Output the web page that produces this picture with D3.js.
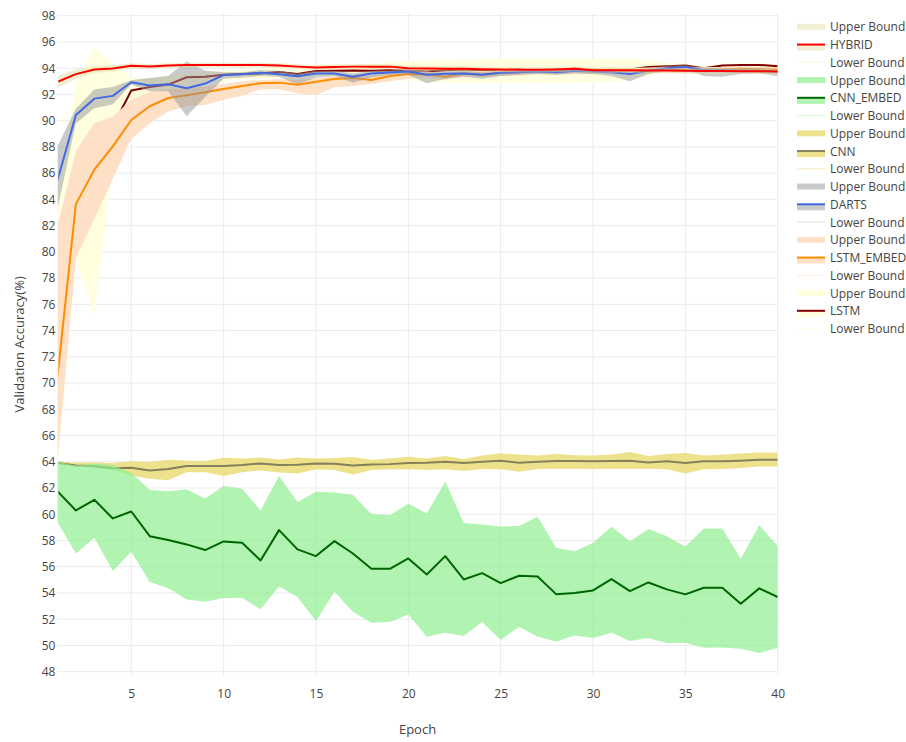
<!DOCTYPE html>
<html>
  <head>
    <meta charset="utf-8">
    <title>Validation Accuracy</title>
    <style>
      body { margin: 0; background: #fff; }
      text { font-family: "Open Sans", verdana, arial, sans-serif; fill: #444; }
    </style>
  </head>
  <body>
    <div class="chart-area"></div>

    <script src="https://d3js.org/d3.v7.min.js"></script>
    <script>
        // epochs on the x axis
        var epochs = [1,2,3,4,5,6,7,8,9,10,11,12,13,14,15,16,17,18,19,20,
                      21,22,23,24,25,26,27,28,29,30,31,32,33,34,35,36,37,38,39,40];

        var xTicks = [5, 10, 15, 20, 25, 30, 35, 40];
        var yTicks = [48,50,52,54,56,58,60,62,64,66,68,70,72,74,76,78,80,82,84,86,88,90,92,94,96,98];

        // HYBRID
        var hybrid = [92.96,93.55,93.9,93.97,94.18,94.13,94.2,94.24,94.24,94.25,94.24,94.24,94.2,94.12,94.05,94.1,94.12,94.12,94.12,94.0,
                      93.98,93.95,93.95,93.92,93.9,93.88,93.88,93.9,93.95,93.85,93.85,93.85,93.82,93.82,93.8,93.78,93.78,93.77,93.76,93.75];
        var hybridUpper = [93.4,93.9,94.15,94.2,94.38,94.32,94.38,94.4,94.42,94.42,94.4,94.42,94.38,94.3,94.25,94.28,94.3,94.32,94.3,94.2,
                           94.18,94.15,94.16,94.12,94.1,94.08,94.1,94.12,94.15,94.05,94.06,94.05,94.03,94.02,94.0,93.98,93.99,93.97,93.96,93.95];
        var hybridLower = [92.5,93.2,93.65,93.75,93.98,93.94,94.02,94.06,94.05,94.07,94.06,94.05,94.02,93.93,93.86,93.92,93.93,93.92,93.94,93.8,
                           93.78,93.76,93.74,93.72,93.7,93.68,93.67,93.7,93.74,93.65,93.64,93.65,93.62,93.62,93.6,93.58,93.57,93.57,93.56,93.55];

        // CNN_EMBED
        var cnnEmbed = [61.76,60.29,61.1,59.68,60.21,58.33,58.03,57.7,57.27,57.93,57.83,56.48,58.79,57.32,56.81,57.95,57.01,55.84,55.84,56.63,
                        55.41,56.81,55.03,55.51,54.75,55.31,55.26,53.91,53.99,54.19,55.06,54.14,54.8,54.27,53.89,54.4,54.4,53.18,54.35,53.69];
        var cnnEmbedUpper = [64.0,63.72,63.87,63.75,63.16,61.84,61.76,61.89,61.2,62.15,61.94,60.29,62.91,60.93,61.71,61.66,61.48,60.01,59.93,60.8,
                             60.06,62.5,59.33,59.22,59.07,59.1,59.81,57.45,57.17,57.83,59.05,57.95,58.87,58.33,57.55,58.92,58.92,56.61,59.17,57.57];
        var cnnEmbedLower = [59.4,57.01,58.21,55.67,57.14,54.83,54.35,53.51,53.33,53.61,53.63,52.75,54.5,53.69,51.86,54.09,52.57,51.73,51.78,52.36,
                             50.66,50.97,50.71,51.78,50.41,51.42,50.66,50.3,50.76,50.56,50.97,50.33,50.56,50.18,50.2,49.82,49.84,49.74,49.42,49.82];

        // CNN
        var cnn = [63.92,63.72,63.65,63.5,63.54,63.34,63.44,63.67,63.67,63.67,63.75,63.87,63.75,63.77,63.87,63.85,63.72,63.8,63.82,63.9,
                   63.92,64.0,63.9,64.0,64.08,63.92,64.0,64.05,64.05,64.03,64.05,64.08,63.95,64.03,63.9,64.03,64.03,64.08,64.15,64.15];
        var cnnUpper = [64.0,63.95,63.95,63.9,64.03,63.98,64.15,64.08,64.05,64.3,64.25,64.33,64.18,64.33,64.25,64.28,64.36,64.15,64.25,64.38,
                        64.25,64.43,64.22,64.48,64.64,64.55,64.48,64.6,64.5,64.48,64.55,64.74,64.43,64.6,64.66,64.48,64.53,64.63,64.71,64.69];
        var cnnLower = [63.85,63.67,63.55,63.4,62.96,62.7,62.6,63.21,63.21,62.91,63.21,63.34,63.18,63.11,63.42,63.37,63.03,63.37,63.42,63.42,
                        63.37,63.42,63.29,63.45,63.42,63.24,63.45,63.47,63.47,63.45,63.47,63.47,63.47,63.42,63.11,63.42,63.45,63.53,63.63,63.64];

        // DARTS
        var darts = [85.44,90.43,91.68,91.89,92.93,92.68,92.78,92.47,92.83,93.48,93.53,93.66,93.53,93.38,93.6,93.6,93.35,93.6,93.68,93.74,
                     93.5,93.58,93.6,93.5,93.66,93.7,93.75,93.7,93.8,93.75,93.7,93.55,93.8,94.0,94.1,93.85,93.85,93.8,93.8,93.75];
        var dartsUpper = [88.04,90.9,92.37,92.57,93.08,93.26,93.4,94.53,93.8,93.7,93.7,93.85,93.8,93.6,93.8,93.8,93.6,93.8,93.85,93.9,
                          93.75,93.75,93.8,93.7,93.85,93.9,93.95,93.9,94.0,93.95,93.9,93.8,94.0,94.2,94.25,94.05,94.0,94.0,94.0,93.9];
        var dartsLower = [83.25,89.8,90.94,91.25,92.75,92.24,92.24,90.33,91.8,93.2,93.3,93.4,93.35,92.75,93.3,93.4,92.9,93.3,93.5,93.5,
                          92.85,93.2,93.35,93.2,93.4,93.5,93.55,93.5,93.6,93.55,93.4,93.0,93.55,93.8,93.9,93.4,93.35,93.55,93.6,93.4];

        // LSTM_EMBED
        var lstmEmbed = [70.4,83.64,86.26,88.04,90.05,91.1,91.73,91.94,92.17,92.42,92.64,92.85,92.9,92.74,92.97,93.18,93.25,93.1,93.4,93.56,
                         93.53,93.35,93.6,93.5,93.66,93.7,93.8,93.75,93.85,93.8,93.85,93.8,93.85,93.9,93.85,93.9,93.9,93.95,93.9,93.9];
        var lstmEmbedUpper = [81.93,87.66,89.83,90.3,91.6,92.2,92.4,92.5,92.6,92.8,93.0,93.1,93.15,93.1,93.25,93.4,93.5,93.4,93.6,93.75,
                              93.75,93.6,93.8,93.75,93.85,93.9,94.0,93.95,94.05,94.0,94.05,94.0,94.05,94.1,94.05,94.1,94.1,94.15,94.1,94.1];
        var lstmEmbedLower = [63.9,79.55,82.5,85.6,88.6,89.8,90.7,91.1,91.2,91.6,91.9,92.4,92.4,92.1,91.95,92.55,92.65,92.8,93.0,93.2,
                              93.3,93.1,93.35,93.3,93.4,93.45,93.55,93.5,93.6,93.55,93.6,93.55,93.6,93.65,93.6,93.65,93.65,93.7,93.65,93.65];

        // LSTM
        var lstm = [73.0,84.5,87.0,89.55,92.3,92.57,92.75,93.31,93.34,93.5,93.55,93.6,93.72,93.56,93.79,93.8,93.82,93.8,93.85,93.8,
                    93.75,93.85,93.9,93.85,93.85,93.9,93.8,93.9,93.95,93.9,93.85,93.9,94.1,94.15,94.2,94.0,94.2,94.25,94.25,94.15];
        var lstmUpper = [84.0,92.8,95.6,94.4,93.3,93.2,93.4,93.6,93.7,93.8,93.9,93.95,94.1,93.95,94.2,94.2,94.25,94.3,94.5,94.55,
                         94.6,94.6,94.65,94.7,94.7,94.7,94.7,94.7,94.7,94.7,94.7,94.7,94.6,94.4,94.35,94.15,94.35,94.4,94.4,94.3];
        var lstmLower = [63.8,79.4,75.2,86.8,91.0,92.0,92.2,92.7,92.9,93.0,93.15,93.2,93.3,93.15,93.4,93.4,93.4,93.2,93.1,93.0,
                         92.95,92.9,92.9,92.9,92.9,92.9,92.85,92.9,92.9,92.95,92.95,93.1,93.4,93.8,94.05,93.85,94.05,94.1,94.1,94.0];

        // drawing order (first = bottom), legend shows them reversed
        var series = [
            { name: "LSTM", values: lstm, upper: lstmUpper, lower: lstmLower, line: "#800000", fill: "#ffffe0" },
            { name: "LSTM_EMBED", values: lstmEmbed, upper: lstmEmbedUpper, lower: lstmEmbedLower, line: "#ff8c00", fill: "#fee0c6" },
            { name: "DARTS", values: darts, upper: dartsUpper, lower: dartsLower, line: "#4169e1", fill: "rgba(150,150,150,0.5)" },
            { name: "CNN", values: cnn, upper: cnnUpper, lower: cnnLower, line: "#85805a", fill: "rgba(236,222,128,0.9)" },
            { name: "CNN_EMBED", values: cnnEmbed, upper: cnnEmbedUpper, lower: cnnEmbedLower, line: "#006400", fill: "rgba(144,238,144,0.7)" },
            { name: "HYBRID", values: hybrid, upper: hybridUpper, lower: hybridLower, line: "#ff0000", fill: "rgba(222,220,160,0.45)" }
        ];

        var width = 906, height = 742;
        var plot = {left: 57.4, right: 777.7, top: 13.1, bottom: 675.6};

        var svg = d3.select(".chart-area")
            .append("svg")
                .attr("width", width)
                .attr("height", height);

        var x = d3.scaleLinear()
            .domain([1, 40])
            .range([plot.left, plot.right]);

        var y = d3.scaleLinear()
            .domain([47.7, 98.2])
            .range([plot.bottom, plot.top]);

        // grid
        svg.append("g")
            .selectAll("line")
            .data(yTicks)
            .enter().append("line")
                .attr("x1", plot.left)
                .attr("x2", plot.right)
                .attr("y1", function(d) { return y(d); })
                .attr("y2", function(d) { return y(d); })
                .attr("stroke", "#ebebeb")
                .attr("stroke-width", 1);

        svg.append("g")
            .selectAll("line")
            .data(xTicks)
            .enter().append("line")
                .attr("x1", function(d) { return x(d); })
                .attr("x2", function(d) { return x(d); })
                .attr("y1", plot.top)
                .attr("y2", plot.bottom)
                .attr("stroke", "#ebebeb")
                .attr("stroke-width", 1);

        // axes: labels only, no domain line / ticks
        var xAxis = svg.append("g")
            .attr("transform", "translate(0," + (plot.bottom + 2) + ")")
            .call(d3.axisBottom(x).tickValues(xTicks).tickSize(0).tickPadding(12));
        xAxis.select(".domain").remove();

        var yAxis = svg.append("g")
            .attr("transform", "translate(" + (plot.left - 2) + ",0)")
            .call(d3.axisLeft(y).tickValues(yTicks).tickSize(0).tickPadding(0));
        yAxis.select(".domain").remove();

        svg.selectAll(".tick text")
            .attr("font-family", "'Open Sans', verdana, arial, sans-serif")
            .attr("font-size", 12)
            .attr("fill", "#444");

        svg.append("clipPath")
            .attr("id", "clip")
            .append("rect")
                .attr("x", plot.left)
                .attr("y", plot.top)
                .attr("width", plot.right - plot.left)
                .attr("height", plot.bottom - plot.top);

        // lines get a clip that starts just inside the left edge, so a line
        // hidden under a later band does not peek out at epoch 1
        svg.append("clipPath")
            .attr("id", "clip-lines")
            .append("rect")
                .attr("x", plot.left + 1)
                .attr("y", plot.top)
                .attr("width", plot.right - plot.left + 2)
                .attr("height", plot.bottom - plot.top);

        var marks = svg.append("g").attr("clip-path", "url(#clip)");

        var lineGen = d3.line()
            .x(function(d, i) { return x(epochs[i]); })
            .y(function(d) { return y(d); });

        // each group: fill lower -> mean, fill mean -> upper, then the mean line
        series.forEach(function(s) {
            var lowArea = d3.area()
                .x(function(d, i) { return x(epochs[i]); })
                .y0(function(d, i) { return y(s.lower[i]); })
                .y1(function(d) { return y(d); });
            var upArea = d3.area()
                .x(function(d, i) { return x(epochs[i]); })
                .y0(function(d) { return y(d); })
                .y1(function(d, i) { return y(s.upper[i]); });

            marks.append("path")
                .datum(s.values)
                .attr("d", lowArea)
                .attr("fill", s.fill);
            marks.append("path")
                .datum(s.values)
                .attr("d", upArea)
                .attr("fill", s.fill);
            marks.append("path")
                .datum(s.values)
                .attr("clip-path", "url(#clip-lines)")
                .attr("d", lineGen)
                .attr("fill", "none")
                .attr("stroke", s.line)
                .attr("stroke-width", 2)
                .attr("stroke-linejoin", "round");
        });

        // axis titles
        svg.append("text")
            .attr("x", (plot.left + plot.right) / 2)
            .attr("y", 734)
            .attr("text-anchor", "middle")
            .attr("font-size", 13)
            .text("Epoch");

        svg.append("text")
            .attr("transform", "translate(23.5," + ((plot.top + plot.bottom) / 2) + ") rotate(-90)")
            .attr("text-anchor", "middle")
            .attr("font-size", 13)
            .text("Validation Accuracy(%)");

        // legend
        var legendItems = [];
        series.slice().reverse().forEach(function(s) {
            legendItems.push({ label: "Upper Bound", kind: "upper", s: s });
            legendItems.push({ label: s.name, kind: "line", s: s });
            legendItems.push({ label: "Lower Bound", kind: "lower", s: s });
        });

        var legend = svg.append("g")
            .selectAll("g")
            .data(legendItems)
            .enter().append("g")
                .attr("transform", function(d, i) { return "translate(797," + (26.8 + i * 17.75) + ")"; });

        legend.filter(function(d) { return d.kind === "upper"; })
            .append("rect")
                .attr("x", 0).attr("y", -3)
                .attr("width", 28).attr("height", 6)
                .attr("fill", function(d) { return d.s.fill; });

        legend.filter(function(d) { return d.kind === "line"; })
            .append("rect")
                .attr("x", 0).attr("y", 0)
                .attr("width", 28).attr("height", 6)
                .attr("fill", function(d) { return d.s.fill; });

        legend.filter(function(d) { return d.kind === "line"; })
            .append("line")
                .attr("x1", 0).attr("x2", 28)
                .attr("y1", 0).attr("y2", 0)
                .attr("stroke", function(d) { return d.s.line; })
                .attr("stroke-width", 2);

        legend.filter(function(d) { return d.kind === "lower"; })
            .append("line")
                .attr("x1", 0).attr("x2", 28)
                .attr("y1", 0).attr("y2", 0)
                .attr("stroke", function(d) { return d.s.fill; })
                .attr("stroke-opacity", 0.6)
                .attr("stroke-width", 1);

        legend.append("text")
            .attr("x", 33)
            .attr("y", 4.5)
            .attr("font-size", 12)
            .text(function(d) { return d.label; });
    </script>
  </body>
</html>
